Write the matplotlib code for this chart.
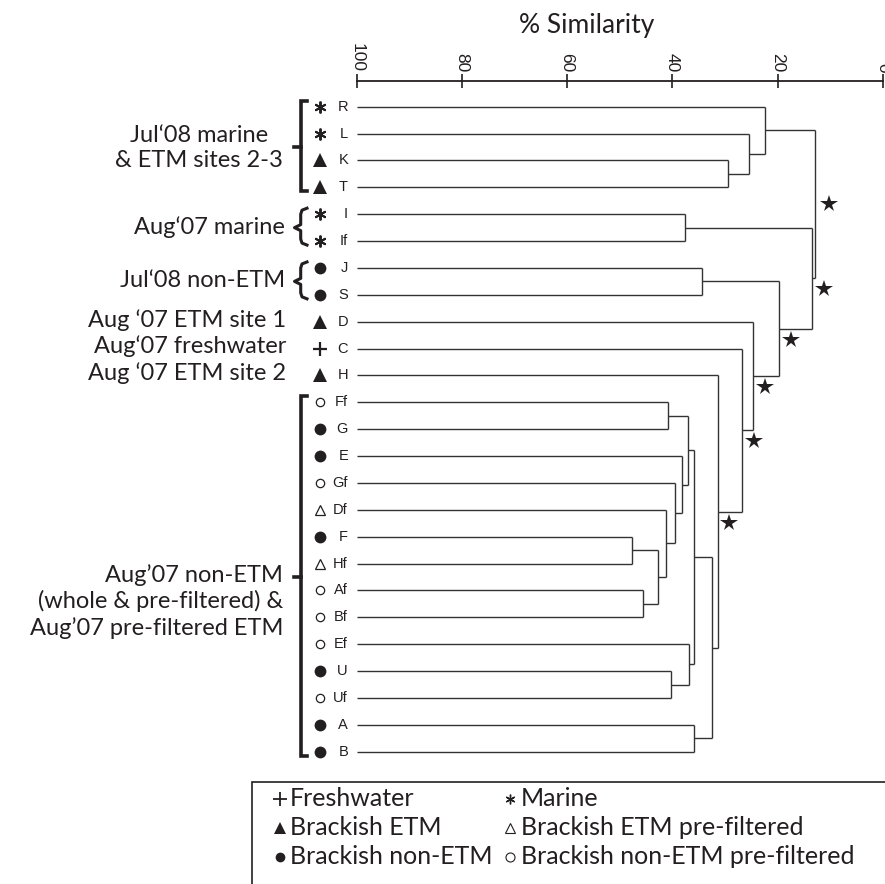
import matplotlib
matplotlib.use('Agg')
import matplotlib.pyplot as plt
from matplotlib.transforms import blended_transform_factory, ScaledTranslation
from matplotlib.patches import Rectangle

W, H = 885, 884

# ---------------- data ----------------
leaves = ['R', 'L', 'K', 'T', 'I', 'If', 'J', 'S', 'D', 'C', 'H', 'Ff', 'G', 'E',
          'Gf', 'Df', 'F', 'Hf', 'Af', 'Bf', 'Ef', 'U', 'Uf', 'A', 'B']
leaf_types = ['marine', 'marine', 'etm', 'etm', 'marine', 'marine', 'nonetm', 'nonetm',
              'etm', 'fresh', 'etm', 'nonetm_pf', 'nonetm', 'nonetm', 'nonetm_pf', 'etm_pf',
              'nonetm', 'etm_pf', 'nonetm_pf', 'nonetm_pf', 'nonetm_pf', 'nonetm', 'nonetm_pf',
              'nonetm', 'nonetm']

# merges: (left, right, % similarity); clusters named n0, n1, ...
merges = [
    ('K', 'T', 29.5), ('L', 'n0', 25.5), ('R', 'n1', 22.4), ('I', 'If', 37.6),
    ('J', 'S', 34.3), ('Ff', 'G', 40.8), ('F', 'Hf', 47.6), ('Af', 'Bf', 45.5),
    ('n6', 'n7', 42.7), ('Df', 'n8', 41.2), ('Gf', 'n9', 39.5), ('E', 'n10', 38.2),
    ('n5', 'n11', 37.1), ('U', 'Uf', 40.3), ('Ef', 'n13', 36.8), ('n12', 'n14', 35.9),
    ('A', 'B', 35.8), ('n15', 'n16', 32.5), ('H', 'n17', 31.4), ('C', 'n18', 26.8),
    ('D', 'n19', 24.7), ('n4', 'n20', 19.7), ('n3', 'n21', 13.4), ('n2', 'n22', 12.8),
]
starred = ['n23', 'n22', 'n21', 'n20', 'n19', 'n18']

xticks = [100, 80, 60, 40, 20, 0]
xlabel = '% Similarity'

groups = [
    ("Jul\u201808 marine\n& ETM sites 2-3", 'R', 'T', 'square', 'center'),
    ("Aug\u201807 marine", 'I', 'If', 'curly', 'right'),
    ("Jul\u201808 non-ETM", 'J', 'S', 'curly', 'right'),
    ("Aug\u201907 non-ETM\n(whole & pre-filtered) &\nAug\u201907 pre-filtered ETM", 'Ff', 'B', 'square', 'first'),
]
single_labels = [("Aug \u201807 ETM site 1", 'D'), ("Aug\u201807 freshwater", 'C'),
                 ("Aug \u201807 ETM site 2", 'H')]

legend_entries = [('fresh', 'Freshwater'), ('marine', 'Marine'),
                  ('etm', 'Brackish ETM'), ('etm_pf', 'Brackish ETM pre-filtered'),
                  ('nonetm', 'Brackish non-ETM'), ('nonetm_pf', 'Brackish non-ETM pre-filtered')]

# ---------------- styles ----------------
INK = '#231f20'
markers = {
    'marine': dict(marker=(6, 2, 0), ms=8.5, mew=1.4, mfc=INK, mec=INK),
    'etm': dict(marker='^', ms=10.5, mew=0, mfc=INK, mec=INK),
    'nonetm': dict(marker='o', ms=8.5, mew=0, mfc=INK, mec=INK),
    'fresh': dict(marker='+', ms=10, mew=1.6, mfc=INK, mec=INK),
    'etm_pf': dict(marker='^', ms=6.5, mew=0.9, mfc='white', mec=INK),
    'nonetm_pf': dict(marker='o', ms=6, mew=0.9, mfc='white', mec=INK),
}
leg_markers = {
    'marine': dict(marker=(6, 2, 0), ms=7, mew=1.0, mfc=INK, mec=INK),
    'etm': dict(marker='^', ms=8, mew=0, mfc=INK, mec=INK),
    'nonetm': dict(marker='o', ms=7, mew=0, mfc=INK, mec=INK),
    'fresh': dict(marker='+', ms=9.5, mew=1.3, mfc=INK, mec=INK),
    'etm_pf': dict(marker='^', ms=7, mew=0.8, mfc='white', mec=INK),
    'nonetm_pf': dict(marker='o', ms=6.5, mew=0.8, mfc='white', mec=INK),
}
SANS = ['Lato', 'DejaVu Sans']
ARIAL = ['Liberation Sans', 'DejaVu Sans']

fig = plt.figure(figsize=(W / 100, H / 100), dpi=100)

# axis geometry in pixels
ax_l, ax_r, ax_t, ax_b = 356.7, 882.7, 80.7, 770.0
row0, drow = 106.7, 26.875
ax = fig.add_axes([ax_l / W, 1 - ax_b / H, (ax_r - ax_l) / W, (ax_b - ax_t) / H])
ax.set_xlim(100, 0)
ax.set_ylim((ax_b - row0) / drow, (ax_t - row0) / drow)
for s in ['left', 'right', 'bottom']:
    ax.spines[s].set_visible(False)
ax.spines['top'].set_linewidth(1.3)
ax.spines['top'].set_color(INK)
ax.xaxis.tick_top()
ax.set_xticks(xticks)
ax.set_xticklabels([str(t) for t in xticks], rotation=-90, family=ARIAL, fontsize=12.5, color=INK)
ax.tick_params(axis='x', direction='inout', length=10, width=1.2, pad=1.0, color=INK)
ax.set_yticks([])
ax.patch.set_visible(False)

# ---------------- dendrogram ----------------
pos = {name: (100.0, i) for i, name in enumerate(leaves)}
LW = 1.0
LC = '#333333'
for k, (a, b, sim) in enumerate(merges):
    xa, ya = pos[a]
    xb, yb = pos[b]
    ax.plot([xa, sim], [ya, ya], color=LC, lw=LW, solid_capstyle='butt')
    ax.plot([xb, sim], [yb, yb], color=LC, lw=LW, solid_capstyle='butt')
    ax.plot([sim, sim], [ya, yb], color=LC, lw=LW, solid_capstyle='butt')
    pos['n%d' % k] = (sim, (ya + yb) / 2)

for j, name in enumerate(starred):
    x, y = pos[name]
    off = (9.5, 0) if j == 0 else (8.5, -8)
    ax.plot([x], [y], marker='*', ms=13, color=INK, mew=0, linestyle='none',
            transform=ax.transData + ScaledTranslation(off[0] / 72, off[1] / 72, fig.dpi_scale_trans),
            clip_on=False)

# ---------------- leaf labels & symbols ----------------
bt = blended_transform_factory(fig.transFigure, ax.transData)
for i, (name, typ) in enumerate(zip(leaves, leaf_types)):
    ax.text(348 / W, i, name, transform=bt, ha='right', va='center', family=ARIAL,
            fontsize=10.5, color=INK)
    ax.plot([319.5 / W], [i], linestyle='none', transform=bt, clip_on=False, **markers[typ])

# ---------------- brackets & group labels ----------------
BLW = 2.6
bx = 300.7
for text, first, last, kind, align in groups:
    i0, i1 = leaves.index(first), leaves.index(last)
    y0 = row0 + drow * i0 - 6
    y1 = row0 + drow * i1 + 4
    ym = (row0 + drow * i0 + row0 + drow * i1) / 2
    if kind == 'square':
        xs = [306.5, bx, bx, 306.5]
        ys = [y0, y0, y1, y1]
        fig.add_artist(plt.Line2D([x / W for x in xs], [1 - y / H for y in ys], color=INK,
                                  lw=BLW, solid_joinstyle='miter'))
        fig.add_artist(plt.Line2D([293.5 / W, bx / W], [1 - ym / H, 1 - ym / H], color=INK, lw=BLW))
    else:
        xs = [307, 302, bx, bx, 294.5, bx, bx, 302, 307]
        ys = [y0, y0 + 2, y0 + 6, ym - 3, ym, ym + 3, y1 - 6, y1 - 2, y1]
        fig.add_artist(plt.Line2D([x / W for x in xs], [1 - y / H for y in ys], color=INK,
                                  lw=BLW * 0.85, solid_joinstyle='round'))
    if align == 'center':
        fig.text(199 / W, 1 - (ym + 1) / H, text, ha='center', va='center', multialignment='center',
                 family=SANS, fontsize=17, color=INK, linespacing=1.25)
    elif align == 'right':
        fig.text(285 / W, 1 - (ym - 1) / H, text, ha='right', va='center',
                 family=SANS, fontsize=17, color=INK)
    else:
        fig.text(283 / W, 1 - (ym - 13) / H, text, ha='right', va='top', multialignment='right',
                 family=SANS, fontsize=17, color=INK, linespacing=1.25)

for text, leaf in single_labels:
    i = leaves.index(leaf)
    y = row0 + drow * i - 2
    fig.text(286 / W, 1 - y / H, text, ha='right', va='center', family=SANS, fontsize=17, color=INK)

# ---------------- title ----------------
fig.text(587 / W, 1 - 26 / H, xlabel, ha='center', va='center', family=SANS, fontsize=19, color=INK)

# ---------------- legend box ----------------
fig.add_artist(Rectangle((251.7 / W, 1 - 920 / H), (900 - 251.7) / W, (920 - 781.7) / H,
                         transform=fig.transFigure, fill=False, lw=1.2, edgecolor=INK, clip_on=False))
col_sym = [280, 510]
col_txt = [290, 521]
rows_y = [798.5, 827.5, 856.5]
for k, (typ, lab) in enumerate(legend_entries):
    r, c = k // 2, k % 2
    yy = 1 - rows_y[r] / H
    fig.add_artist(plt.Line2D([col_sym[c] / W], [yy], linestyle='none', **leg_markers[typ]))
    fig.text(col_txt[c] / W, yy, lab, ha='left', va='center', family=SANS, fontsize=18, color=INK)

fig.savefig('out.png', dpi=100)
